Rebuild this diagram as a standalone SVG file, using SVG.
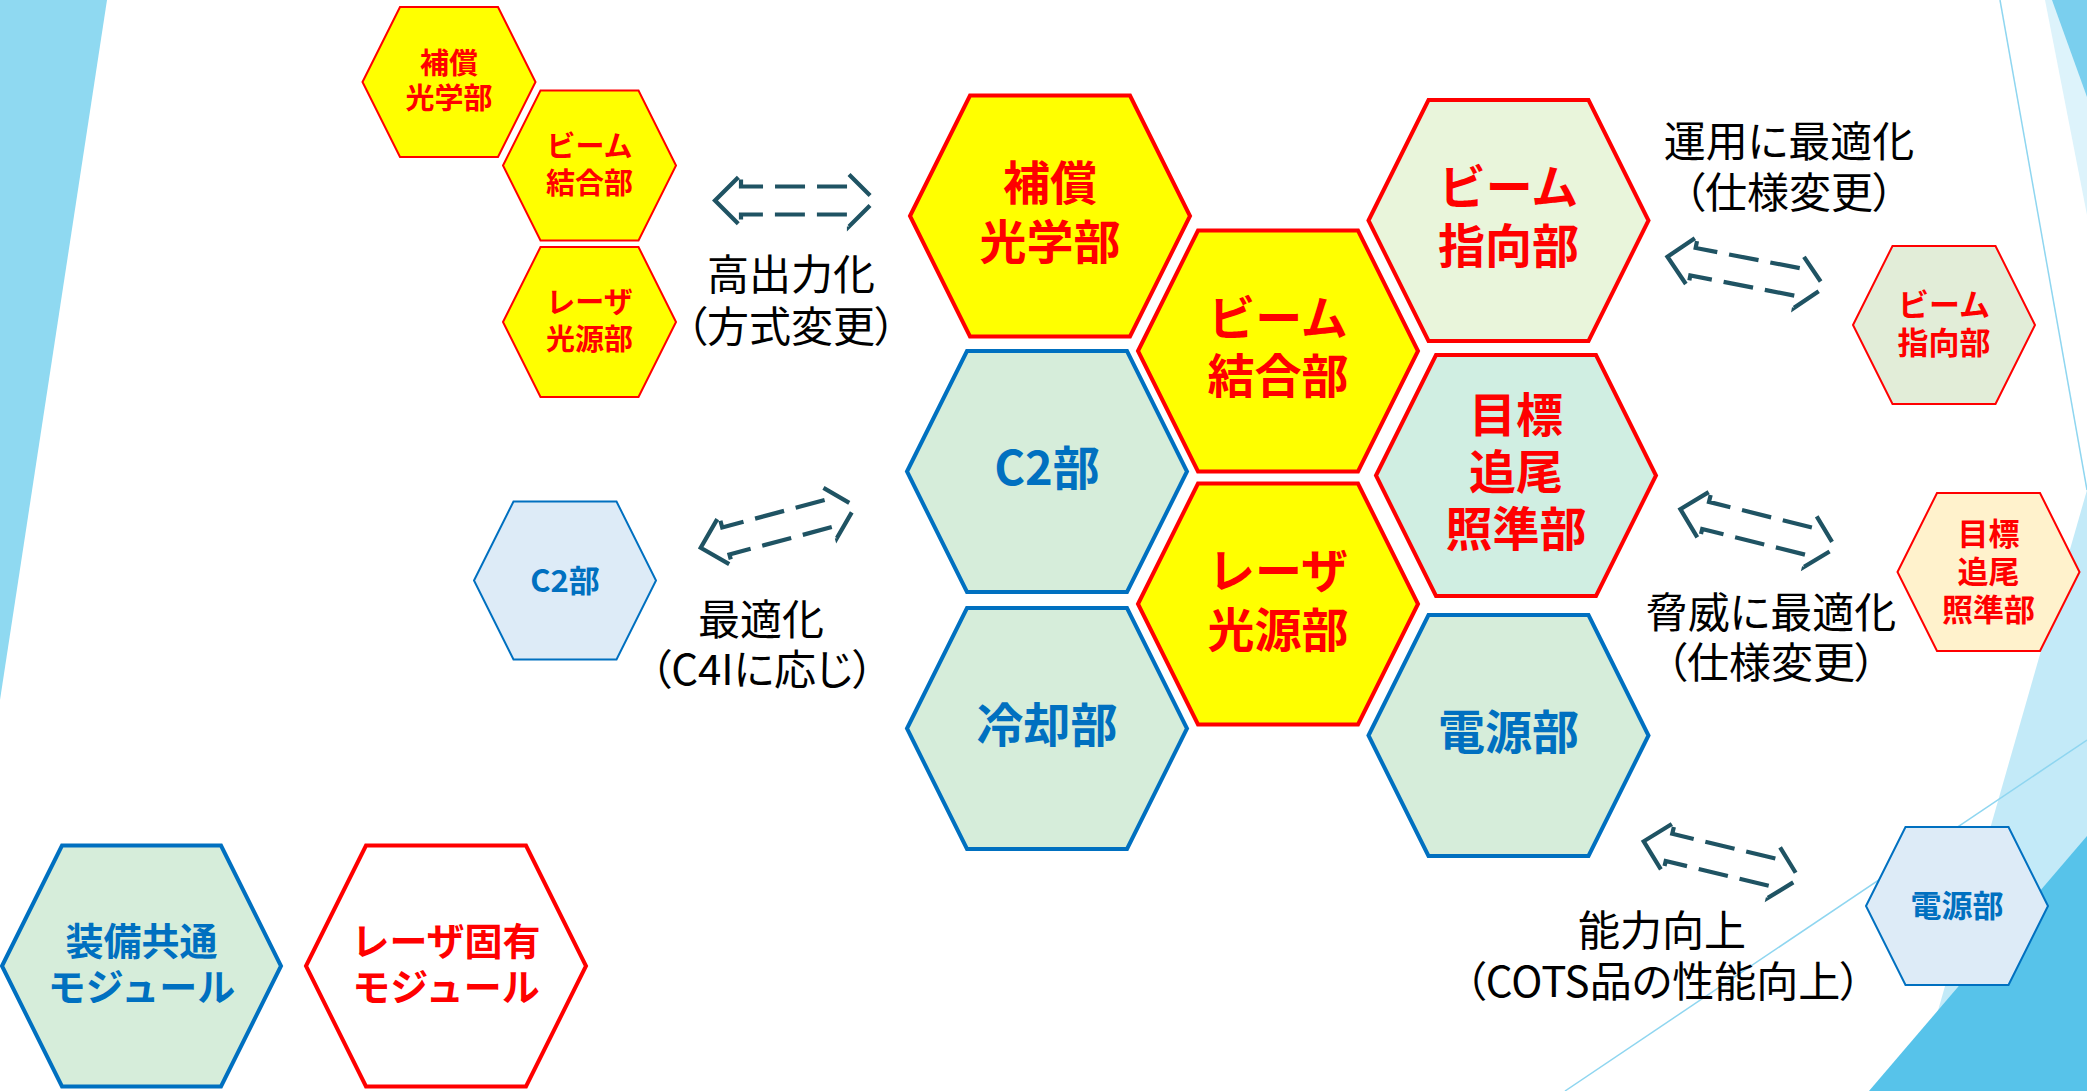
<svg xmlns="http://www.w3.org/2000/svg" width="2087" height="1091" viewBox="0 0 2087 1091">
<style>
  text { font-family: "Noto Sans CJK JP", "Noto Sans", sans-serif; text-anchor: middle; }
  .big { font-size: 47px; font-weight: 700; }
  .smallL { font-size: 29px; font-weight: 700; }
  .smallR { font-size: 31px; font-weight: 700; }
  .legend { font-size: 38px; font-weight: 700; }
  .lbl { font-size: 42px; font-weight: 400; fill: #000000; font-feature-settings: "palt" 1; }
  .red { fill: #FF0000; }
  .blue { fill: #0070C0; }
  .hexBigRed { stroke: #FF0000; stroke-width: 4; stroke-linejoin: miter; }
  .hexBigBlue { stroke: #0070C0; stroke-width: 4; stroke-linejoin: miter; }
  .hexSmRed { stroke: #FF0000; stroke-width: 2; }
  .hexSmBlue { stroke: #0070C0; stroke-width: 2; }
  .arrow { fill: none; stroke: #1F5363; stroke-width: 4.2; stroke-linejoin: miter;
           stroke-dasharray: 33 8.8 29 12 30 12 30 14 29.8 14 29.8 14 30 12 30 12 27 10.8 33; }
</style>
<defs>
  <path id="lrArrow" d="M -80,0 L -54,-26 L -54,-14 L 54,-14 L 54,-26 L 80,0 L 54,26 L 54,14 L -54,14 L -54,26 Z"/>
</defs>
<rect x="0" y="0" width="2087" height="1091" fill="#FFFFFF"/>
<g id="background">
  <polygon points="0,0 107,0 0,700" fill="#8FD9F1"/>
  <polygon points="2045,0 2087,0 2087,215" fill="#DDF3FB"/>
  <polygon points="2052,0 2087,0 2087,97" fill="#7ACFEE"/>
  <line x1="2000" y1="0" x2="2087" y2="490" stroke="#8FD6F0" stroke-width="1.5"/>
  <polygon points="2087,490 2087,1091 1915,1091" fill="#C3EAF8"/>
  <polygon points="2087,836 2087,1091 1869,1091" fill="#57C3EA"/>
  <line x1="1565" y1="1091" x2="2087" y2="740" stroke="#8FD6F0" stroke-width="1.5"/>
</g>

<g id="node-hosho-big">
  <polygon class="hexBigRed" fill="#FFFF00" points="910,216 970,95.5 1130,95.5 1190,216 1130,336.5 970,336.5"/>
  <text class="big red" x="1050" y="200">補償<tspan x="1050" dy="59">光学部</tspan></text>
</g>
<g id="node-c2-big">
  <polygon class="hexBigBlue" fill="#D6EDDA" points="907,471.5 967,351 1127,351 1187,471.5 1127,592 967,592"/>
  <text class="big blue" x="1047" y="485">C2部</text>
</g>
<g id="node-reikyaku-big">
  <polygon class="hexBigBlue" fill="#D6EDDA" points="907,728.5 967,608 1127,608 1187,728.5 1127,849 967,849"/>
  <text class="big blue" x="1047" y="742">冷却部</text>
</g>
<g id="node-beam-ketsugo-big">
  <polygon class="hexBigRed" fill="#FFFF00" points="1138,351 1198,230.5 1358,230.5 1418,351 1358,471.5 1198,471.5"/>
  <text class="big red" x="1278" y="335">ビーム<tspan x="1278" dy="58">結合部</tspan></text>
</g>
<g id="node-laser-big">
  <polygon class="hexBigRed" fill="#FFFF00" points="1138,604 1198,483.5 1358,483.5 1418,604 1358,724.5 1198,724.5"/>
  <text class="big red" x="1278" y="588">レーザ<tspan x="1278" dy="58.5">光源部</tspan></text>
</g>
<g id="node-beam-shiko-big">
  <polygon class="hexBigRed" fill="#E9F5DB" points="1368.5,220.5 1428.5,100 1588.5,100 1648.5,220.5 1588.5,341 1428.5,341"/>
  <text class="big red" x="1508.5" y="204">ビーム<tspan x="1508.5" dy="58.5">指向部</tspan></text>
</g>
<g id="node-mokuhyo-big">
  <polygon class="hexBigRed" fill="#D0EEE2" points="1376,475.5 1436,355 1596,355 1656,475.5 1596,596 1436,596"/>
  <text class="big red" x="1516" y="432">目標<tspan x="1516" dy="57">追尾</tspan><tspan x="1516" dy="57">照準部</tspan></text>
</g>
<g id="node-dengen-big">
  <polygon class="hexBigBlue" fill="#D6EDDA" points="1368.5,735.5 1428.5,615 1588.5,615 1648.5,735.5 1588.5,856 1428.5,856"/>
  <text class="big blue" x="1508.5" y="749">電源部</text>
</g>

<g id="node-hosho-small">
  <polygon class="hexSmRed" fill="#FFFF00" points="362.5,82 400,7 498,7 535.5,82 498,157 400,157"/>
  <text class="smallL red" x="449" y="74">補償<tspan x="449" dy="35">光学部</tspan></text>
</g>
<g id="node-beam-ketsugo-small">
  <polygon class="hexSmRed" fill="#FFFF00" points="503,165.5 540.5,90.5 638.5,90.5 676,165.5 638.5,240.5 540.5,240.5"/>
  <text class="smallL red" x="589.5" y="157">ビーム<tspan x="589.5" dy="36.5">結合部</tspan></text>
</g>
<g id="node-laser-small">
  <polygon class="hexSmRed" fill="#FFFF00" points="503,322 540.5,247 638.5,247 676,322 638.5,397 540.5,397"/>
  <text class="smallL red" x="589.5" y="313">レーザ<tspan x="589.5" dy="37">光源部</tspan></text>
</g>
<g id="node-c2-small">
  <polygon class="hexSmBlue" fill="#DDEBF7" points="474,580.5 513.5,501.5 616.5,501.5 656,580.5 616.5,659.5 513.5,659.5"/>
  <text class="smallR blue" x="565" y="591.5">C2部</text>
</g>
<g id="node-beam-shiko-small">
  <polygon class="hexSmRed" fill="#E2EDD8" points="1853,325 1892.5,246 1995.5,246 2035,325 1995.5,404 1892.5,404"/>
  <text class="smallR red" x="1944" y="316">ビーム<tspan x="1944" dy="38">指向部</tspan></text>
</g>
<g id="node-mokuhyo-small">
  <polygon class="hexSmRed" fill="#FFF2CC" points="1897.5,572 1937,493 2040,493 2079.5,572 2040,651 1937,651"/>
  <text class="smallR red" x="1988.5" y="545">目標<tspan x="1988.5" dy="38">追尾</tspan><tspan x="1988.5" dy="38">照準部</tspan></text>
</g>
<g id="node-dengen-small">
  <polygon class="hexSmBlue" fill="#DDEBF7" points="1866,906 1905.5,827 2008.5,827 2048,906 2008.5,985 1905.5,985"/>
  <text class="smallR blue" x="1957" y="916.5">電源部</text>
</g>

<g id="legend-common">
  <polygon class="hexBigBlue" fill="#D6EDDA" points="2,966 62,845.5 221,845.5 281,966 221,1086.5 62,1086.5"/>
  <text class="legend blue" x="141.5" y="955">装備共通<tspan x="141.5" dy="45.5">モジュール</tspan></text>
</g>
<g id="legend-laser">
  <polygon class="hexBigRed" fill="#FFFFFF" points="306,966 366,845.5 526,845.5 586,966 526,1086.5 366,1086.5"/>
  <text class="legend red" x="446" y="955">レーザ固有<tspan x="446" dy="45.5">モジュール</tspan></text>
</g>

<g id="connectors">
  <use href="#lrArrow" class="arrow" transform="translate(795,200.5)"/>
  <use href="#lrArrow" class="arrow" transform="translate(778,527) rotate(-15)"/>
  <use href="#lrArrow" class="arrow" transform="translate(1746,272) rotate(11)"/>
  <use href="#lrArrow" class="arrow" transform="translate(1758,528.5) rotate(14)"/>
  <use href="#lrArrow" class="arrow" transform="translate(1721.5,860) rotate(13.5)"/>
  <text class="lbl" x="791" y="290">高出力化<tspan x="791" dy="51.5">（方式変更）</tspan></text>
  <text class="lbl" x="761" y="635">最適化<tspan x="762" dy="50">（C4Iに応じ）</tspan></text>
  <text class="lbl" x="1789" y="157">運用に最適化<tspan x="1789" dy="51">（仕様変更）</tspan></text>
  <text class="lbl" x="1771" y="627.5">脅威に最適化<tspan x="1771" dy="50.5">（仕様変更）</tspan></text>
  <text class="lbl" x="1662" y="946">能力向上<tspan x="1663" dy="50.5">（COTS品の性能向上）</tspan></text>
</g>
</svg>
